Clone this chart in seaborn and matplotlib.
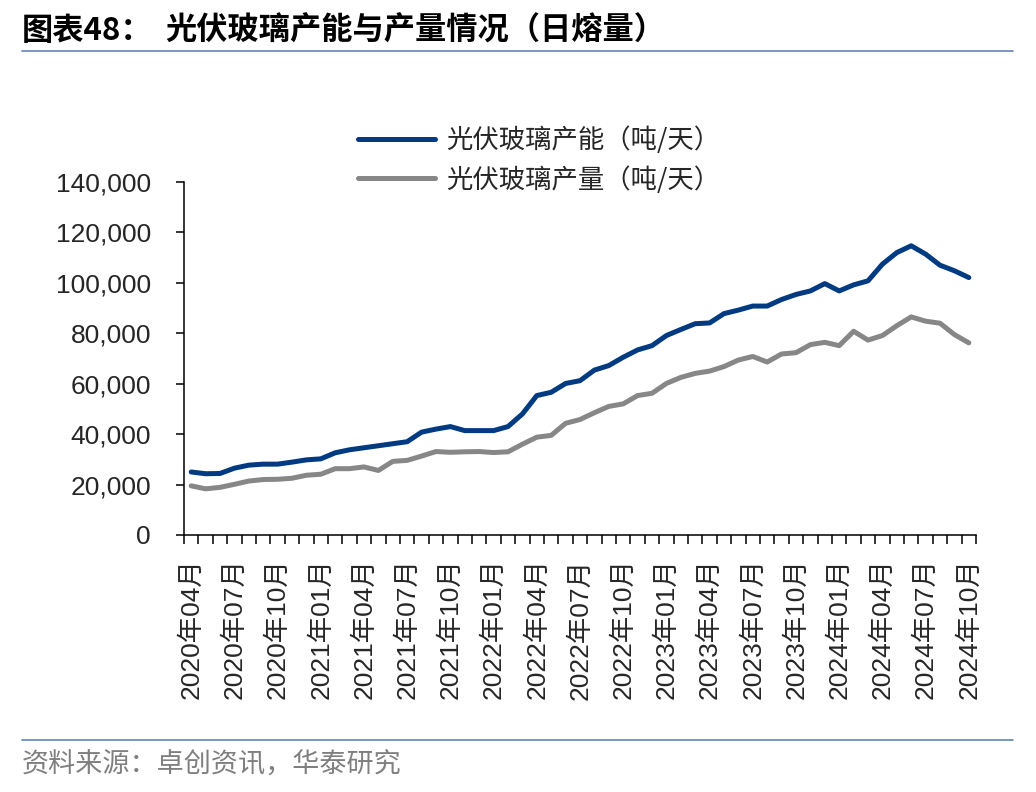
import numpy as np
import pandas as pd
import matplotlib
matplotlib.use("Agg")
import matplotlib.pyplot as plt
from matplotlib.ticker import FuncFormatter, FixedLocator
from matplotlib.lines import Line2D
import seaborn as sns

# ---------------- data ----------------
months = pd.date_range("2020-04-01", "2024-10-01", freq="MS")
month_labels = [f"{d.year}年{d.month:02d}月" for d in months]

capacity = [25000, 24300, 24400, 26500, 27700, 28100, 28100, 28900, 29800, 30200,
            32600, 33800, 34600, 35400, 36200, 37000, 40800, 42000, 43000, 41400,
            41400, 41400, 43000, 48000, 55300, 56600, 60100, 61200, 65400, 67200,
            70500, 73400, 75100, 79100, 81500, 83800, 84100, 87800, 89200, 90800,
            90800, 93400, 95400, 96800, 99700, 96800, 99200, 100800, 107400, 112000,
            114700, 111400, 107000, 104800, 102100]
production = [19500, 18300, 18900, 20100, 21400, 22000, 22100, 22500, 23700, 24100,
              26300, 26300, 27000, 25600, 29200, 29600, 31300, 33100, 32800, 33000,
              33100, 32700, 33000, 36000, 38800, 39500, 44300, 45800, 48500, 51000,
              52000, 55300, 56200, 60100, 62500, 64100, 65000, 66800, 69400, 70800,
              68600, 71800, 72300, 75500, 76400, 75100, 80800, 77300, 79100, 83000,
              86500, 84800, 84000, 79500, 76200]
series_names = ["光伏玻璃产能（吨/天）", "光伏玻璃产量（吨/天）"]
series_colors = ["#003A80", "#878787"]
y_ticks = [0, 20000, 40000, 60000, 80000, 100000, 120000, 140000]

title_prefix = "图表48："
title_main = "光伏玻璃产能与产量情况（日熔量）"
source_text = "资料来源：卓创资讯，华泰研究"

# ---------------- style ----------------
sns.set_theme(style="white")
plt.rcParams["font.family"] = ["Liberation Sans", "Noto Sans CJK SC", "DejaVu Sans"]
plt.rcParams["axes.unicode_minus"] = False

W, H = 1036, 792
fig = plt.figure(figsize=(W / 100, H / 100), dpi=100)
ax = fig.add_axes([184 / W, 1 - 535 / H, (976 - 184) / W, (535 - 182) / H])

idx = np.arange(len(month_labels))
df = pd.DataFrame({
    "idx": np.concatenate([idx, idx]),
    "value": capacity + production,
    "series": [series_names[0]] * len(idx) + [series_names[1]] * len(idx),
})
sns.lineplot(data=df, x="idx", y="value", hue="series",
             palette=dict(zip(series_names, series_colors)),
             linewidth=3.6, ax=ax, legend=False,
             solid_joinstyle="round", solid_capstyle="round")

ax.set_xlim(-0.5, len(idx) - 0.5)
ax.set_ylim(0, 140000)
ax.set_xlabel("")
ax.set_ylabel("")

# x ticks: labels every 3 months, tick marks every month boundary
ax.xaxis.set_major_locator(FixedLocator(idx[::3]))
ax.set_xticklabels([month_labels[i] for i in idx[::3]], rotation=90, fontsize=19,
                   va="top", ha="center")
ax.xaxis.set_minor_locator(FixedLocator(np.arange(-0.5, len(idx), 1.0)))
ax.tick_params(axis="x", which="major", length=0, pad=17)
ax.tick_params(axis="x", which="minor", length=6.5, width=1.1, direction="out",
               color="black", bottom=True)

ax.set_yticks(y_ticks)
ax.yaxis.set_major_formatter(FuncFormatter(lambda v, p: f"{int(v):,}"))
ax.tick_params(axis="y", which="major", length=5.8, width=1.1, direction="out",
               color="black", labelsize=19, pad=18, left=True)

for s in ["top", "right"]:
    ax.spines[s].set_visible(False)
for s in ["left", "bottom"]:
    ax.spines[s].set_color("black")
    ax.spines[s].set_linewidth(1.1)

# legend
handles = [Line2D([0], [0], color=c, lw=3.6, solid_capstyle="round") for c in series_colors]
fig.legend(handles, series_names, loc="center left",
           bbox_to_anchor=(358 / W, 1 - 160 / H), frameon=False,
           handlelength=2.9, handletextpad=0.45,
           labelspacing=0.45, borderpad=0, borderaxespad=0,
           prop={"family": ["Noto Sans CJK SC"], "size": 19})

# title
fig.text(22 / W, 1 - 31 / H, title_prefix, fontsize=22.5, fontweight="bold",
         family=["Noto Sans CJK SC"], va="center", ha="left", color="black")
fig.text(165 / W, 1 - 31 / H, title_main, fontsize=22.5, fontweight="bold",
         family=["Noto Sans CJK SC"], va="center", ha="left", color="black")

# separator lines
fig.add_artist(Line2D([22 / W, 1013 / W], [1 - 50.5 / H, 1 - 50.5 / H],
                      transform=fig.transFigure, color="#6E8FC0", lw=1.3))
fig.add_artist(Line2D([22 / W, 1013 / W], [1 - 740 / H, 1 - 740 / H],
                      transform=fig.transFigure, color="#6E8FC0", lw=1.3))

# source
fig.text(22 / W, 1 - 765 / H, source_text, fontsize=19.5,
         family=["Noto Sans CJK SC"], va="center", ha="left", color="#7F7F7F")

fig.savefig("out.png", dpi=100)
